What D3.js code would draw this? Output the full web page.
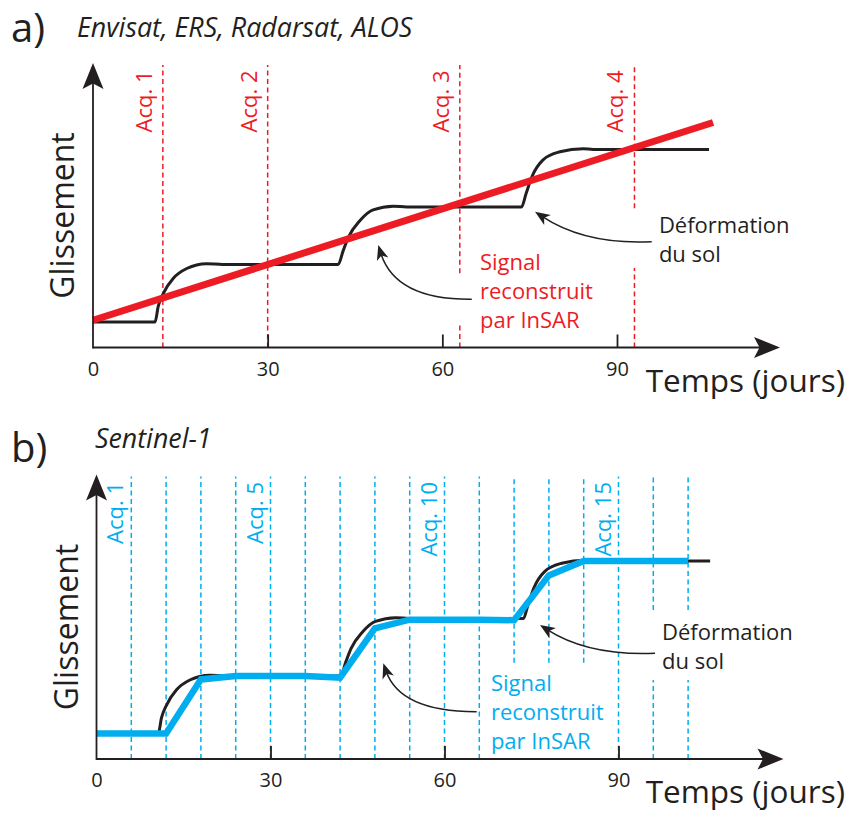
<!DOCTYPE html>
<html>
<head>
<meta charset="utf-8">
<script src="https://cdn.jsdelivr.net/npm/d3@7"></script>
<style>
  body { margin: 0; background: #fff; }
  text { font-family: "Open Sans", sans-serif; fill: #231f20; }
</style>
</head>
<body>
<div id="chart"></div>
<script>
// Ground deformation (same in both panels): day, slip in "steps"
const groundDays = [0, 10.65, 11.2, 12.1, 13.8, 16.1, 19.5, 22.3, 42.1, 43.0, 43.9, 45.9, 48.1, 51.6, 53.9, 73.6, 74.4, 75.4, 77.3, 80.2, 84.2, 85.9, 105.8];
const groundSlip = [0, 0, 0.27, 0.5, 0.76, 0.93, 1.015, 1.0, 1.0, 1.25, 1.48, 1.77, 1.95, 2.015, 2.0, 2.0, 2.24, 2.53, 2.82, 2.96, 3.015, 3.0, 3.0];

// a) old satellites
const acqDaysA = [12, 30, 63, 93];
const acqLabelsA = ["Acq. 1", "Acq. 2", "Acq. 3", "Acq. 4"];
const insarDaysA = [0, 106.5];
const insarSlipA = [0.03, 3.47];

// b) Sentinel-1
const acqDaysB = [6, 12, 18, 24, 30, 36, 42, 48, 54, 60, 66, 72, 78, 84, 90, 96, 102];
const acqLabelsB = ["Acq. 1", "", "", "", "Acq. 5", "", "", "", "", "Acq. 10", "", "", "", "", "Acq. 15", "", ""];
const insarDaysB = [0, 6, 12, 18, 24, 30, 36, 42, 48, 54, 60, 66, 72, 78, 84, 90, 96, 102];
const insarSlipB = [0, 0, 0, 0.94, 1.0, 1.0, 1.0, 0.97, 1.83, 1.98, 1.98, 1.98, 1.97, 2.75, 3.0, 3.0, 3.0, 3.0];

const xTicks = [0, 30, 60, 90];
const xTitle = "Temps (jours)";
const yTitle = "Glissement";
const deformText = ["Déformation", "du sol"];
const signalText = ["Signal", "reconstruit", "par InSAR"];

const ink = "#231f20";
const svgWidth = 849, svgHeight = 814;

const svg = d3.select("#chart").append("svg")
  .attr("width", svgWidth)
  .attr("height", svgHeight);

const panels = [
  {
    tag: "a)", tagY: 42, sub: "Envisat, ERS, Radarsat, ALOS", subX: 77, subY: 36.5,
    x0: 93, x90: 617, base: 322, axisY: 347.5, color: "#ed1c24",
    acqDays: acqDaysA, acqLabels: acqLabelsA, labelShift: 11,
    insarDays: insarDaysA, insarSlip: insarSlipA, insarWidth: 7,
    gaps: [{ day: 63, from: -0.02, to: 0.85 }, { day: 93, from: 0.94, to: 1.98 }],
    signalAt: [66.47, 0.904], signalArrow: [[65.05, 0.395], [51.87, 0.383], [49.0, 1.339]],
    deformAt: [97.2, 1.553], deformArrow: [[95.96, 1.397], [84.5, 1.339], [75.92, 1.918]]
  },
  {
    tag: "b)", tagY: 462, sub: "Sentinel-1", subX: 95, subY: 448,
    x0: 96.5, x90: 618.5, base: 733.5, axisY: 759, color: "#00aeef",
    acqDays: acqDaysB, acqLabels: acqLabelsB, labelShift: 8,
    insarDays: insarDaysB, insarSlip: insarSlipB, insarWidth: 6.5,
    gaps: [
      { day: 72, from: -0.5, to: 1.23 }, { day: 78, from: -0.5, to: 1.23 }, { day: 84, from: -0.5, to: 1.23 },
      { day: 96, from: 0.93, to: 2.15 }, { day: 102, from: 0.93, to: 2.15 }
    ],
    signalAt: [68.0, 0.744], signalArrow: [[65.55, 0.379], [52.33, 0.374], [49.45, 1.221]],
    deformAt: [97.5, 1.626], deformArrow: [[96.29, 1.395], [84.74, 1.348], [76.47, 1.887]]
  }
];

panels.forEach(drawPanel);

function drawPanel(p) {
  const g = svg.append("g");

  // Scales
  const x = d3.scaleLinear().domain([0, 90]).range([p.x0, p.x90]);
  const y = d3.scaleLinear().domain([0, 3]).range([p.base, p.base - 172.5]);

  const yAxisTop = p.axisY - 284.5;
  const xAxisEnd = p.x0 + 687;
  const dashTop = y.invert(p.axisY - 282.5);
  const dashBottom = y.invert(p.axisY);

  // Acquisition lines (dashed), with gaps next to the annotations
  p.acqDays.forEach((d, i) => {
    let segs = [[dashBottom, dashTop]];
    p.gaps.filter(gp => gp.day === d).forEach(gp => {
      segs = segs.flatMap(([a, b]) => {
        const out = [];
        if (gp.from > a) out.push([a, Math.min(b, gp.from)]);
        if (gp.to < b) out.push([Math.max(a, gp.to), b]);
        return out;
      });
    });
    segs.forEach(([a, b]) => {
      g.append("line")
        .attr("x1", x(d)).attr("x2", x(d))
        .attr("y1", y(a)).attr("y2", y(b))
        .attr("stroke", p.color)
        .attr("stroke-width", 1.5)
        .attr("stroke-dasharray", "5,3.5");
    });

    if (p.acqLabels[i]) {
      g.append("text")
        .attr("transform", `translate(${x(d) - p.labelShift}, ${p.axisY - 277}) rotate(-90)`)
        .attr("text-anchor", "end")
        .style("font-size", "22px")
        .style("fill", p.color)
        .text(p.acqLabels[i]);
    }
  });

  // Ground deformation
  const ground = groundDays.map((d, i) => ({ day: d, slip: groundSlip[i] }));
  g.append("path")
    .datum(ground)
    .attr("fill", "none")
    .attr("stroke", ink)
    .attr("stroke-width", 3)
    .attr("d", d3.line().x(d => x(d.day)).y(d => y(d.slip)).curve(d3.curveMonotoneX));

  // InSAR reconstructed signal
  const insar = p.insarDays.map((d, i) => ({ day: d, slip: p.insarSlip[i] }));
  g.append("path")
    .datum(insar)
    .attr("fill", "none")
    .attr("stroke", p.color)
    .attr("stroke-width", p.insarWidth)
    .attr("stroke-linejoin", "miter")
    .attr("d", d3.line().x(d => x(d.day)).y(d => y(d.slip)));

  // Axes with arrows
  g.append("line")
    .attr("x1", p.x0).attr("x2", xAxisEnd - 20)
    .attr("y1", p.axisY).attr("y2", p.axisY)
    .attr("stroke", ink).attr("stroke-width", 1.8);
  g.append("line")
    .attr("x1", p.x0).attr("x2", p.x0)
    .attr("y1", p.axisY + 0.9).attr("y2", yAxisTop + 20)
    .attr("stroke", ink).attr("stroke-width", 1.8);

  const bigHead = "M0,0 L10.5,26 L0,20.5 L-10.5,26 Z";
  g.append("path").attr("d", bigHead).attr("fill", ink)
    .attr("transform", `translate(${p.x0}, ${yAxisTop})`);
  g.append("path").attr("d", bigHead).attr("fill", ink)
    .attr("transform", `translate(${xAxisEnd}, ${p.axisY}) rotate(90)`);

  const xAxis = g.append("g")
    .attr("transform", `translate(0, ${p.axisY})`)
    .call(d3.axisBottom(x)
      .tickValues(xTicks)
      .tickFormat(d3.format("d"))
      .tickSize(-13)
      .tickPadding(14));
  xAxis.attr("font-size", 20).attr("font-family", "'Open Sans', sans-serif");
  xAxis.select(".domain").remove();
  xAxis.selectAll(".tick line")
    .attr("stroke", ink)
    .attr("stroke-width", 1.8)
    .filter(d => d === 0).remove();
  xAxis.selectAll(".tick text")
    .style("font-size", "20px")
    .attr("fill", ink);

  // Axis titles
  g.append("text")
    .attr("x", 845).attr("y", p.axisY + 44)
    .attr("text-anchor", "end")
    .style("font-size", "31.5px")
    .text(xTitle);
  g.append("text")
    .attr("transform", `translate(${p.x0 - 19}, ${p.axisY - 132}) rotate(-90)`)
    .attr("text-anchor", "middle")
    .style("font-size", "32px")
    .text(yTitle);

  // Panel tag and satellites
  g.append("text")
    .attr("x", 11).attr("y", p.tagY)
    .style("font-size", "40px")
    .text(p.tag);
  g.append("text")
    .attr("x", p.subX).attr("y", p.subY)
    .style("font-size", "26.8px")
    .style("font-style", "italic")
    .text(p.sub);

  // Annotations
  const arrow = (pts) => {
    const [s, c, e] = pts.map(([d, v]) => [x(d), y(v)]);
    const ang = Math.atan2(e[1] - c[1], e[0] - c[0]) * 180 / Math.PI;
    const back = 8;
    const len = Math.hypot(e[0] - c[0], e[1] - c[1]);
    const eb = [e[0] - (e[0] - c[0]) / len * back, e[1] - (e[1] - c[1]) / len * back];
    g.append("path")
      .attr("d", `M${s[0]},${s[1]} Q${c[0]},${c[1]} ${eb[0]},${eb[1]}`)
      .attr("fill", "none")
      .attr("stroke", ink)
      .attr("stroke-width", 1.5);
    g.append("path")
      .attr("d", "M0,0 L-15,-6 L-11,0 L-15,6 Z")
      .attr("fill", ink)
      .attr("transform", `translate(${e[0]}, ${e[1]}) rotate(${ang})`);
  };
  arrow(p.signalArrow);
  arrow(p.deformArrow);

  const block = (lines, at, fill) => {
    const t = g.append("text")
      .attr("x", x(at[0])).attr("y", y(at[1]))
      .style("font-size", "22px")
      .style("fill", fill);
    lines.forEach((l, i) => {
      t.append("tspan")
        .attr("x", x(at[0]))
        .attr("dy", i === 0 ? 0 : 29)
        .text(l);
    });
  };
  block(signalText, p.signalAt, p.color);
  block(deformText, p.deformAt, ink);
}
</script>
</body>
</html>
